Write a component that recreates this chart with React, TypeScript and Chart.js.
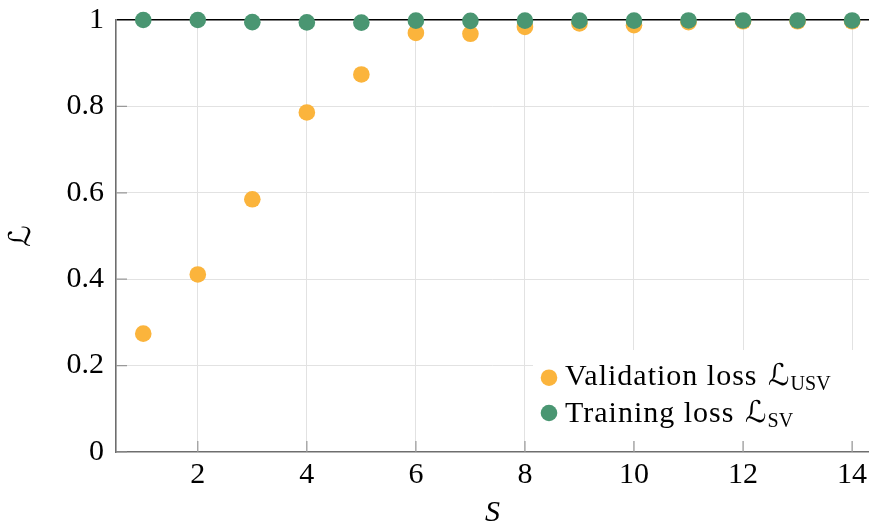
import React, { useEffect, useRef } from 'react';
import { Chart, registerables } from 'chart.js';

Chart.register(...registerables);

const steps = [1, 2, 3, 4, 5, 6, 7, 8, 9, 10, 11, 12, 13, 14];
const validationLoss = [0.274, 0.411, 0.585, 0.786, 0.874, 0.97, 0.968, 0.984, 0.992, 0.988, 0.995, 0.997, 0.997, 0.997];
const trainingLoss = [1.0, 1.0, 0.995, 0.9945, 0.994, 0.9985, 0.998, 0.9985, 0.9985, 0.9985, 0.999, 0.999, 0.999, 0.999];
const xTicks = [2, 4, 6, 8, 10, 12, 14];
const yTicks = [0, 0.2, 0.4, 0.6, 0.8, 1];
const seriesNames = ['Validation loss', 'Training loss'];
const seriesSubscripts = ['USV', 'SV'];
const seriesColors = ['#fbb43c', '#4a9672'];

const SERIF = '"Liberation Serif", "DejaVu Serif", serif';

const inwardTicks = {
  id: 'inwardTicks',
  beforeDatasetsDraw(chart: any) {
    const { ctx, chartArea, scales } = chart;
    ctx.save();
    ctx.strokeStyle = '#999999';
    ctx.lineWidth = 1.2;
    ctx.beginPath();
    for (const v of xTicks) {
      const px = scales.x.getPixelForValue(v);
      ctx.moveTo(px, chartArea.bottom);
      ctx.lineTo(px, chartArea.bottom - 11);
    }
    for (const v of yTicks) {
      if (v === 1) continue;
      const py = scales.y.getPixelForValue(v);
      ctx.moveTo(chartArea.left, py);
      ctx.lineTo(chartArea.left + 11, py);
    }
    ctx.stroke();
    ctx.restore();
  },
};

const customLegend = {
  id: 'customLegend',
  afterDraw(chart: any) {
    const { ctx } = chart;
    ctx.save();
    ctx.fillStyle = '#ffffff';
    ctx.fillRect(533, 350, 336, 91);
    const rows = [
      { dotY: 377.7, baseY: 385 },
      { dotY: 413, baseY: 422 },
    ];
    rows.forEach((r, i) => {
      ctx.fillStyle = seriesColors[i];
      ctx.beginPath();
      ctx.arc(549, r.dotY, 8.3, 0, Math.PI * 2);
      ctx.fill();
      ctx.fillStyle = '#000000';
      ctx.textBaseline = 'alphabetic';
      ctx.textAlign = 'left';
      ctx.font = `30px ${SERIF}`;
      (ctx as any).letterSpacing = '1px';
      const main = seriesNames[i] + ' ';
      let x = 565;
      ctx.fillText(main, x, r.baseY);
      x += ctx.measureText(main).width + 2;
      (ctx as any).letterSpacing = '0px';
      ctx.font = `italic 30px "DejaVu Serif", "DejaVu Sans", serif`;
      ctx.fillText('\u2112', x, r.baseY);
      x += ctx.measureText('\u2112').width + 1;
      ctx.font = `20px ${SERIF}`;
      ctx.fillText(seriesSubscripts[i], x, r.baseY + 5);
    });
    ctx.restore();
  },
};

const zeroPadding = (scale: any) => {
  scale.paddingTop = 0;
  scale.paddingBottom = 0;
  scale.paddingLeft = 0;
  scale.paddingRight = 0;
};

export default function App() {
  const canvasRef = useRef<HTMLCanvasElement | null>(null);

  useEffect(() => {
    document.body.style.margin = '0';
    const canvas = canvasRef.current;
    if (!canvas) return;
    const chart = new Chart(canvas, {
      type: 'scatter',
      data: {
        datasets: [
          {
            label: seriesNames[0],
            data: steps.map((s, i) => ({ x: s, y: validationLoss[i] })),
            backgroundColor: seriesColors[0],
            borderColor: seriesColors[0],
            pointRadius: 8.3,
            pointBorderWidth: 0,
            order: 1,
            clip: false as any,
          },
          {
            label: seriesNames[1],
            data: steps.map((s, i) => ({ x: s, y: trainingLoss[i] })),
            backgroundColor: seriesColors[1],
            borderColor: seriesColors[1],
            pointRadius: 8.3,
            pointBorderWidth: 0,
            order: 0,
            clip: false as any,
          },
        ],
      },
      options: {
        animation: false,
        responsive: false,
        devicePixelRatio: 1,
        layout: { autoPadding: false, padding: { top: 20, right: 0, left: 0, bottom: 0 } },
        plugins: {
          legend: { display: false },
          tooltip: { enabled: false },
        },
        scales: {
          x: {
            type: 'linear',
            min: 0.5,
            max: 14.31,
            afterBuildTicks: (scale: any) => {
              scale.ticks = xTicks.map((v) => ({ value: v }));
            },
            afterFit: (scale: any) => {
              scale.height = 75;
              zeroPadding(scale);
            },
            grid: {
              color: '#e2e2e2',
              lineWidth: 1,
              drawTicks: false,
            },
            border: { display: true, color: '#6e6e6e', width: 1.6 },
            ticks: {
              color: '#000',
              padding: 5,
              maxRotation: 0,
              autoSkip: false,
              font: { family: SERIF, size: 30 },
            },
            title: {
              display: true,
              text: 'S',
              color: '#000',
              padding: { top: 0, bottom: 0 },
              font: { family: SERIF, size: 30, style: 'italic', lineHeight: 0.9 },
            },
          },
          y: {
            type: 'linear',
            min: 0,
            max: 1,
            afterBuildTicks: (scale: any) => {
              scale.ticks = yTicks.map((v) => ({ value: v }));
            },
            afterFit: (scale: any) => {
              scale.width = 116;
              zeroPadding(scale);
            },
            grid: {
              color: (c: any) => (c.tick && c.tick.value === 1 ? '#000000' : c.tick && c.tick.value === 0 ? 'rgba(0,0,0,0)' : '#e2e2e2'),
              lineWidth: (c: any) => (c.tick && c.tick.value === 1 ? 1.5 : 1),
              drawTicks: false,
            },
            border: { display: true, color: '#6e6e6e', width: 1.6 },
            ticks: {
              color: '#000',
              padding: 12,
              autoSkip: false,
              font: { family: SERIF, size: 30 },
              callback: (v: any) => String(Math.round(Number(v) * 10) / 10),
            },
            title: {
              display: true,
              text: '\u2112',
              color: '#000',
              padding: { top: 4, bottom: 0 },
              font: { family: '"DejaVu Serif", "DejaVu Sans", serif', size: 30, style: 'italic', lineHeight: 1.2 },
            },
          },
        },
      },
      plugins: [inwardTicks, customLegend],
    });
    return () => chart.destroy();
  }, []);

  return (
    <div style={{ width: 869, height: 527 }}>
      <canvas ref={canvasRef} width={869} height={527} style={{ display: 'block' }} />
    </div>
  );
}
